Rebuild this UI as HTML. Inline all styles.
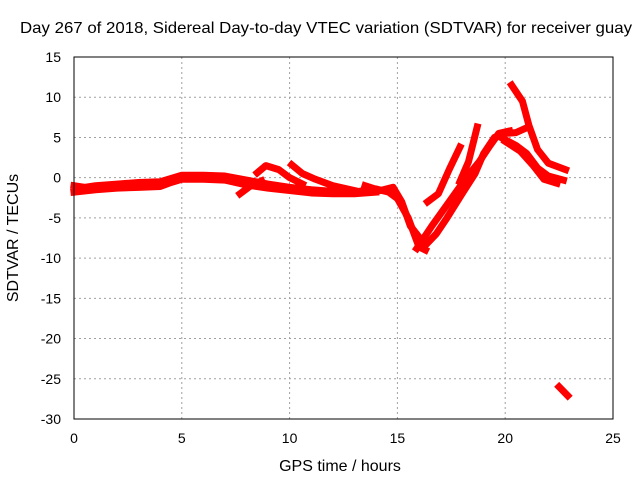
<!DOCTYPE html>
<html><head><meta charset="utf-8"><style>
body{margin:0;background:#fff;}
svg text{font-family:"Liberation Sans",sans-serif;font-size:14px;fill:#000;}
</style></head><body>
<svg id="chart" width="640" height="480">
<text x="20" y="33" textLength="612" lengthAdjust="spacingAndGlyphs" style="font-size:16px">Day 267 of 2018, Sidereal Day-to-day VTEC variation (SDTVAR) for receiver guay</text>
<g id="grid"></g>
<g id="ticks"></g>
<g id="series"></g>
<rect x="74" y="57" width="539" height="362" fill="none" stroke="#000" stroke-width="1"/>
<text x="340" y="471" text-anchor="middle" style="font-size:16px">GPS time / hours</text>
<text transform="translate(18,238) rotate(-90)" text-anchor="middle" style="font-size:16px">SDTVAR / TECUs</text>
</svg>
<script>
const xTicks=[0,5,10,15,20,25];
const yTicks=[15,10,5,0,-5,-10,-15,-20,-25,-30];
const trackMain=[[0,-1],[0.5,-1.2],[1,-1],[2,-0.8],[3,-0.6],[4,-0.5],[5,0.3],[6,0.3],[7,0.2],[8,-0.3],[9,-0.8],[10,-1.2],[11,-1.5],[12,-1.7],[13,-1.8],[14,-1.4],[14.6,-1.8],[15,-2.6],[15.5,-5],[16,-8.6],[16.3,-9]];
const trackBase2=[[0,-1.8],[1,-1.5],[2,-1.3],[3,-1.2],[4,-1.1],[4.5,-0.6],[5,-0.2],[6,-0.2],[7,-0.3],[8,-0.9],[9,-1.3],[10,-1.6],[11,-1.9],[12,-2],[13,-2],[14,-1.8]];
const trackDip2=[[13.5,-1],[14.2,-1.6],[14.8,-1.2],[15.2,-3],[15.6,-6],[16.3,-8.4],[16.8,-7],[17.3,-5],[18,-2],[18.6,0.5],[19,3],[19.5,5],[20,5.5],[20.5,5.6],[21,6.2]];
const trackRise2=[[15.9,-8.8],[16.6,-6],[17.4,-3],[18.2,0],[18.8,2],[19.3,4],[19.7,5.5],[20.2,5.8]];
const trackUpper=[[16.4,-3],[16.9,-2],[17.4,1],[17.9,3.8]];
const trackUpper2=[[17.9,-0.5],[18.3,2],[18.7,6.3]];
const trackPeak=[[20.3,11.5],[20.8,9.5],[21.1,6.5],[21.5,3.5],[22,1.8],[22.8,1]];
const trackLow1=[[19.8,5],[20.5,4],[21,3],[21.5,1.2],[22,0.2],[22.7,-0.3]];
const trackLow2=[[20,4.5],[20.7,3.3],[21.3,1.5],[21.8,-0.2],[22.4,-0.7]];
const trackBump1=[[8.5,0.6],[8.9,1.5],[9.5,1],[10,0],[10.6,-0.8]];
const trackBump2=[[10.1,1.6],[10.6,0.5],[11.2,-0.2],[12,-1],[13,-1.6]];
const trackBump3=[[7.7,-2],[8.2,-1],[8.7,-0.4]];
const trackOut=[[22.5,-26],[22.9,-27.1]];
const tracks=[trackMain,trackBase2,trackDip2,trackRise2,trackUpper,trackUpper2,trackPeak,trackLow1,trackLow2,trackBump1,trackBump2,trackBump3,trackOut];
const names=['track-main','track-base-2','track-dip-2','track-rise-2','track-upper','track-upper-2','track-peak','track-low-1','track-low-2','track-bump-1','track-bump-2','track-bump-3','track-outlier'];
const NS='http://www.w3.org/2000/svg';
function X(h){return 74+(h-0)/25*539;}
function Y(v){return 57+(15-v)/45*362;}
const grid=document.getElementById('grid'),ticks=document.getElementById('ticks'),series=document.getElementById('series');
xTicks.forEach(t=>{
 if(t>0&&t<25){const l=document.createElementNS(NS,'line');
 l.setAttribute('x1',X(t));l.setAttribute('x2',X(t));l.setAttribute('y1',57);l.setAttribute('y2',419);
 l.setAttribute('stroke','#a0a0a0');l.setAttribute('stroke-dasharray','2,3');
 
 
 grid.appendChild(l);}
 const tx=document.createElementNS(NS,'text');tx.setAttribute('x',X(t));tx.setAttribute('y',443);tx.setAttribute('text-anchor','middle');tx.textContent=t;
 
 
 ticks.appendChild(tx);
});
yTicks.forEach(t=>{
 if(t<15&&t>-30){const l=document.createElementNS(NS,'line');
 l.setAttribute('x1',74);l.setAttribute('x2',613);l.setAttribute('y1',Y(t));l.setAttribute('y2',Y(t));
 l.setAttribute('stroke','#a0a0a0');l.setAttribute('stroke-dasharray','2,3');
 
 
 grid.appendChild(l);}
 const tx=document.createElementNS(NS,'text');tx.setAttribute('x',61);tx.setAttribute('y',Y(t)+5);tx.setAttribute('text-anchor','end');tx.textContent=t;
 
 
 ticks.appendChild(tx);
});
tracks.forEach((tr,i)=>{
 const p=document.createElementNS(NS,'polyline');
 p.setAttribute('points',tr.map(d=>X(d[0])+','+Y(d[1])).join(' '));
 p.setAttribute('fill','none');p.setAttribute('stroke','#ff0000');p.setAttribute('stroke-width','7');
 p.setAttribute('stroke-linejoin','round');p.setAttribute('stroke-linecap','square');
 
 
 series.appendChild(p);
});
</script>
</body></html>
